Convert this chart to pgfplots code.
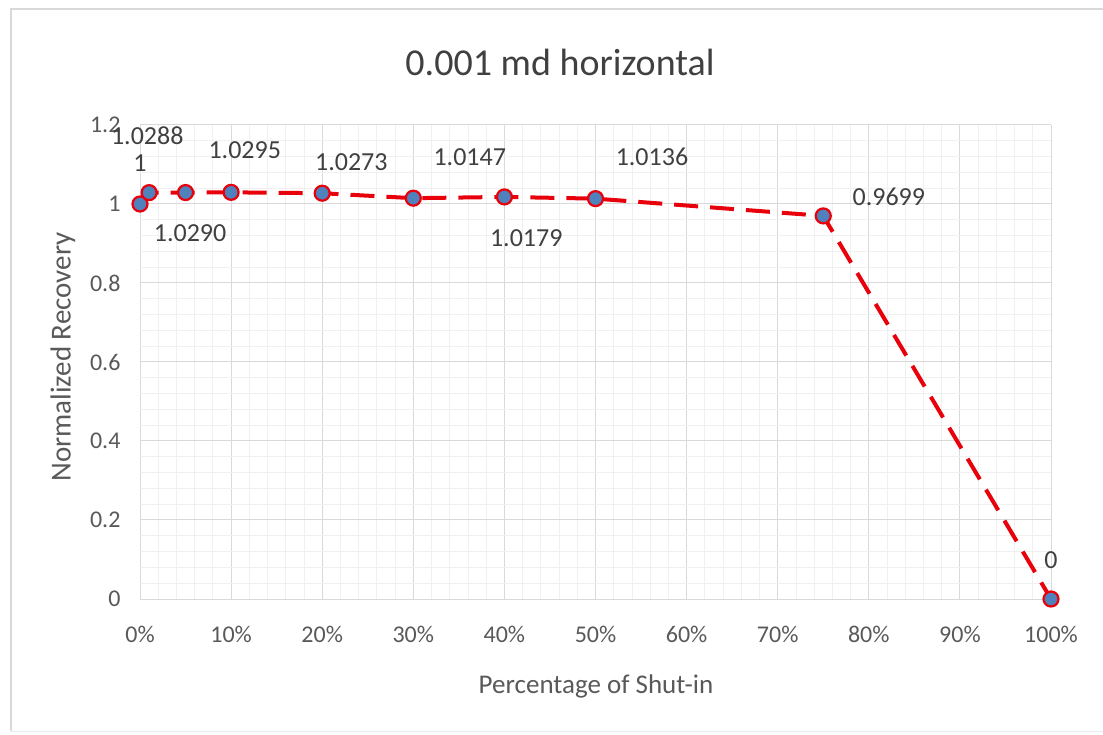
\documentclass[border=0pt]{standalone}
\usepackage{pgfplots}
\pgfplotsset{compat=1.18}
\usepackage{fontspec}
\setmainfont{Carlito}
\definecolor{gridmaj}{HTML}{D9D9D9}
\definecolor{gridmin}{HTML}{F0F0F0}
\definecolor{txt}{HTML}{595959}
\definecolor{lbl}{HTML}{404040}
\definecolor{mk}{HTML}{4F81BD}
\definecolor{ln}{HTML}{E8000B}
\begin{document}
\begin{tikzpicture}[x=1pt,y=1pt]
\useasboundingbox (0,0) rectangle (1103,734);
\draw[gray!30,line width=2pt] (11,3) -- (11,725) -- (1103,725);
\draw[gray!15,line width=1pt] (11,3) -- (1103,3);
\node[text=lbl,font=\fontsize{38}{42}\selectfont] at (560,672) {0.001 md horizontal};
\node[text=txt,font=\fontsize{27}{30}\selectfont] at (596,48) {Percentage of Shut-in};
\node[text=txt,font=\fontsize{29}{32}\selectfont,rotate=90] at (63,377) {Normalized Recovery};
\begin{axis}[
  at={(140pt,135pt)}, anchor=south west,
  scale only axis, width=911pt, height=474pt,
  xmin=0, xmax=100, ymin=0, ymax=1.2,
  xtick={0,10,...,100},
  xticklabel={\pgfmathprintnumber{\tick}\%},
  ytick={0,0.2,...,1.2},
  yticklabels={0,0.2,0.4,0.6,0.8,1,1.2},
  minor x tick num=4, minor y tick num=4,
  grid=both,
  major grid style={gridmaj, line width=1pt},
  minor grid style={gridmin, line width=0.8pt},
  axis line style={draw=none},
  major tick length=0pt, minor tick length=0pt,
  tick label style={text=txt, font=\fontsize{24}{26}\selectfont},
  xticklabel style={yshift=-24pt},
  yticklabel style={xshift=-16pt},
  /pgf/number format/assume math mode=true,
  clip=false,
]
\addplot[ln, line width=4pt, dash pattern=on 24pt off 12pt,
  mark=*, mark size=7.5pt,
  mark options={solid, fill=mk, draw=ln, line width=2.2pt}]
  coordinates {
  (0,1) (1,1.0288) (5,1.0290) (10,1.0295) (20,1.0273) (30,1.0147)
  (40,1.0179) (50,1.0136) (75,0.9699) (100,0)
  };
\begin{scope}[every node/.style={text=lbl, font=\fontsize{26}{28}\selectfont}]
\node at (axis cs:0.8,1.172) {1.0288};
\node at (axis cs:0,1.104) {1};
\node at (axis cs:5.5,0.927) {1.0290};
\node at (axis cs:11.5,1.137) {1.0295};
\node at (axis cs:23.2,1.106) {1.0273};
\node at (axis cs:36.2,1.119) {1.0147};
\node at (axis cs:42.4,0.914) {1.0179};
\node at (axis cs:56.2,1.119) {1.0136};
\node at (axis cs:82.2,1.018) {0.9699};
\node at (axis cs:100,0.099) {0};
\end{scope}
\end{axis}
\end{tikzpicture}
\end{document}
